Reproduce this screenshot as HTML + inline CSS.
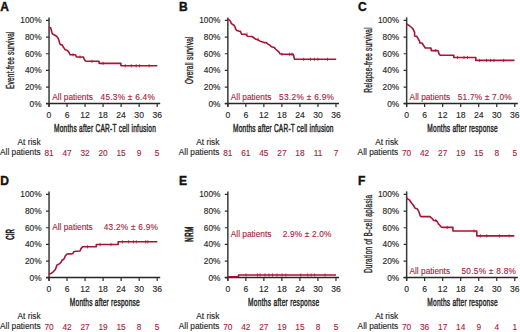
<!DOCTYPE html><html><head><meta charset="utf-8"><style>html,body{margin:0;padding:0;background:#fff;width:520px;height:332px;overflow:hidden}svg{display:block}text{font-family:"Liberation Sans",sans-serif}.k{fill:#2a2a2a;stroke:#2a2a2a;stroke-width:0.15}.r{fill:#aa1a3c;stroke:#aa1a3c;stroke-width:0.12}</style></head><body>
<svg width="520" height="332" viewBox="0 0 520 332">
<rect width="520" height="332" fill="#fff"/>
<g transform="translate(0,0)">
<text x="0.3" y="10.7" font-size="12" font-weight="bold" fill="#111" stroke="#111" stroke-width="0.4">A</text>
<path d="M49.05 17.4V106.8" stroke="#3a3a3a" stroke-width="1.5" fill="none"/>
<path d="M46 103.55H160.2" stroke="#262626" stroke-width="1.4" fill="none"/>
<path d="M46 103.7H49M46 87.05H49M46 70.4H49M46 53.75H49M46 37.1H49M46 20.45H49M49 103.7V106.9M67.03 103.7V106.9M85.06 103.7V106.9M103.09 103.7V106.9M121.12 103.7V106.9M139.15 103.7V106.9M157.18 103.7V106.9" stroke="#2e2e2e" stroke-width="1.2" fill="none"/>
<text x="41.6" y="106.6" font-size="8.3" text-anchor="end" class="k">0%</text>
<text x="41.6" y="89.95" font-size="8.3" text-anchor="end" class="k">20%</text>
<text x="41.6" y="73.3" font-size="8.3" text-anchor="end" class="k">40%</text>
<text x="41.6" y="56.65" font-size="8.3" text-anchor="end" class="k">60%</text>
<text x="41.6" y="40" font-size="8.3" text-anchor="end" class="k">80%</text>
<text x="41.6" y="23.35" font-size="8.3" text-anchor="end" class="k">100%</text>
<text x="49" y="117.8" font-size="8.6" text-anchor="middle" class="k">0</text>
<text x="67.03" y="117.8" font-size="8.6" text-anchor="middle" class="k">6</text>
<text x="85.06" y="117.8" font-size="8.6" text-anchor="middle" class="k">12</text>
<text x="103.09" y="117.8" font-size="8.6" text-anchor="middle" class="k">18</text>
<text x="121.12" y="117.8" font-size="8.6" text-anchor="middle" class="k">24</text>
<text x="139.15" y="117.8" font-size="8.6" text-anchor="middle" class="k">30</text>
<text x="157.18" y="117.8" font-size="8.6" text-anchor="middle" class="k">36</text>
<text transform="translate(54,131.8) scale(0.64,1)" font-size="10.3" textLength="159.06" lengthAdjust="spacing" fill="#262626" stroke="#262626" stroke-width="0.45">Months after CAR-T cell infusion</text>
<text transform="translate(13.9,88.9) rotate(-90) scale(0.64,1)" font-size="10.1" textLength="89.53" lengthAdjust="spacing" fill="#262626" stroke="#262626" stroke-width="0.35">Event-free survival</text>
<text x="40.6" y="144.8" font-size="8.3" text-anchor="end" class="k">At risk</text>
<text x="40.6" y="155.3" font-size="8.3" text-anchor="end" class="k">All patients</text>
<text x="49" y="155.7" font-size="8.3" text-anchor="middle" class="r">81</text>
<text x="67.03" y="155.7" font-size="8.3" text-anchor="middle" class="r">47</text>
<text x="85.06" y="155.7" font-size="8.3" text-anchor="middle" class="r">32</text>
<text x="103.09" y="155.7" font-size="8.3" text-anchor="middle" class="r">20</text>
<text x="121.12" y="155.7" font-size="8.3" text-anchor="middle" class="r">15</text>
<text x="139.15" y="155.7" font-size="8.3" text-anchor="middle" class="r">9</text>
<text x="157.18" y="155.7" font-size="8.3" text-anchor="middle" class="r">5</text>
<text x="52.3" y="99.7" font-size="8.3" class="r">All patients</text>
<text x="100.6" y="99.7" font-size="8.3" textLength="54.2" lengthAdjust="spacing" class="r">45.3% ± 6.4%</text>
</g>
<path d="M49 27.5 50.6 27.8 51.2 29.5 51.7 32 52.5 34 54.5 35 56.5 36.2 57.5 37.2 58.3 38.8 59.2 41 59.7 43.5 60.5 44.6 62 44.9 62.7 45.7 63.3 47.2 64.5 48.6 65.2 49.8 67 50.3 68.3 51.4 69.3 53 70.2 54.8 75.5 54.8 76.5 57 83.4 57 84.2 59.3 85.5 61 87 61.3 99.1 61.3 99.1 63.35 120.9 63.35 120.9 65.8 157.3 65.8" stroke="#ab1234" stroke-width="1.6" fill="none" stroke-linejoin="round"/>
<path d="M73 53.2V56.4M80 55.4V58.6M92 59.7V62.9M103 61.75V64.95M125.3 64.2V67.4M131.3 64.2V67.4M136.2 64.2V67.4M139.4 64.2V67.4M149.1 64.2V67.4" stroke="#ab1234" stroke-width="0.8" fill="none"/>
<g transform="translate(178.8,0)">
<text x="0.3" y="10.7" font-size="12" font-weight="bold" fill="#111" stroke="#111" stroke-width="0.4">B</text>
<path d="M49.05 17.4V106.8" stroke="#3a3a3a" stroke-width="1.5" fill="none"/>
<path d="M46 103.55H160.2" stroke="#262626" stroke-width="1.4" fill="none"/>
<path d="M46 103.7H49M46 87.05H49M46 70.4H49M46 53.75H49M46 37.1H49M46 20.45H49M49 103.7V106.9M67.03 103.7V106.9M85.06 103.7V106.9M103.09 103.7V106.9M121.12 103.7V106.9M139.15 103.7V106.9M157.18 103.7V106.9" stroke="#2e2e2e" stroke-width="1.2" fill="none"/>
<text x="41.6" y="106.6" font-size="8.3" text-anchor="end" class="k">0%</text>
<text x="41.6" y="89.95" font-size="8.3" text-anchor="end" class="k">20%</text>
<text x="41.6" y="73.3" font-size="8.3" text-anchor="end" class="k">40%</text>
<text x="41.6" y="56.65" font-size="8.3" text-anchor="end" class="k">60%</text>
<text x="41.6" y="40" font-size="8.3" text-anchor="end" class="k">80%</text>
<text x="41.6" y="23.35" font-size="8.3" text-anchor="end" class="k">100%</text>
<text x="49" y="117.8" font-size="8.6" text-anchor="middle" class="k">0</text>
<text x="67.03" y="117.8" font-size="8.6" text-anchor="middle" class="k">6</text>
<text x="85.06" y="117.8" font-size="8.6" text-anchor="middle" class="k">12</text>
<text x="103.09" y="117.8" font-size="8.6" text-anchor="middle" class="k">18</text>
<text x="121.12" y="117.8" font-size="8.6" text-anchor="middle" class="k">24</text>
<text x="139.15" y="117.8" font-size="8.6" text-anchor="middle" class="k">30</text>
<text x="157.18" y="117.8" font-size="8.6" text-anchor="middle" class="k">36</text>
<text transform="translate(54.3,131.8) scale(0.64,1)" font-size="10.3" textLength="156.88" lengthAdjust="spacing" fill="#262626" stroke="#262626" stroke-width="0.45">Months after CAR-T cell infusion</text>
<text transform="translate(13.9,84) rotate(-90) scale(0.64,1)" font-size="10.1" textLength="74.06" lengthAdjust="spacing" fill="#262626" stroke="#262626" stroke-width="0.35">Overall survival</text>
<text x="40.6" y="144.8" font-size="8.3" text-anchor="end" class="k">At risk</text>
<text x="40.6" y="155.3" font-size="8.3" text-anchor="end" class="k">All patients</text>
<text x="49" y="155.7" font-size="8.3" text-anchor="middle" class="r">81</text>
<text x="67.03" y="155.7" font-size="8.3" text-anchor="middle" class="r">61</text>
<text x="85.06" y="155.7" font-size="8.3" text-anchor="middle" class="r">45</text>
<text x="103.09" y="155.7" font-size="8.3" text-anchor="middle" class="r">27</text>
<text x="121.12" y="155.7" font-size="8.3" text-anchor="middle" class="r">18</text>
<text x="139.15" y="155.7" font-size="8.3" text-anchor="middle" class="r">11</text>
<text x="157.18" y="155.7" font-size="8.3" text-anchor="middle" class="r">7</text>
<text x="52" y="99.7" font-size="8.3" class="r">All patients</text>
<text x="100.2" y="99.7" font-size="8.3" textLength="55" lengthAdjust="spacing" class="r">53.2% ± 6.9%</text>
</g>
<path d="M227.8 19.1 229.6 20.1 230.6 21.6 231.1 23.2 232.2 24.2 233.7 25 234.5 26 235.2 27.3 235.7 29.3 236.8 30.4 238.8 31.1 240.4 31.4 241.6 34.2 245.7 34.2 247.5 36.2 251.8 36.5 253.4 37.5 256 39.3 258.5 40.1 260 41.2 262 41.8 264.1 42.6 266.2 42.6 267.7 43.9 269.7 45.2 271.3 46.7 274.4 47.5 275.4 49 277.4 50.6 279 52.1 280 53.8 282 54.2 293.3 54.4 294 57 294.6 59.3 336.2 59.3" stroke="#ab1234" stroke-width="1.6" fill="none" stroke-linejoin="round"/>
<path d="M247 32.6V35.8M258 37.7V40.9M282 52.6V55.8M289.5 52.6V55.8M292 52.6V55.8M303.6 57.7V60.9M310.4 57.7V60.9M314.4 57.7V60.9M317.9 57.7V60.9M327.5 57.7V60.9" stroke="#ab1234" stroke-width="0.8" fill="none"/>
<g transform="translate(357.6,0)">
<text x="0.3" y="10.7" font-size="12" font-weight="bold" fill="#111" stroke="#111" stroke-width="0.4">C</text>
<path d="M49.05 17.4V106.8" stroke="#3a3a3a" stroke-width="1.5" fill="none"/>
<path d="M46 103.55H160.2" stroke="#262626" stroke-width="1.4" fill="none"/>
<path d="M46 103.7H49M46 87.05H49M46 70.4H49M46 53.75H49M46 37.1H49M46 20.45H49M49 103.7V106.9M67.03 103.7V106.9M85.06 103.7V106.9M103.09 103.7V106.9M121.12 103.7V106.9M139.15 103.7V106.9M157.18 103.7V106.9" stroke="#2e2e2e" stroke-width="1.2" fill="none"/>
<text x="41.6" y="106.6" font-size="8.3" text-anchor="end" class="k">0%</text>
<text x="41.6" y="89.95" font-size="8.3" text-anchor="end" class="k">20%</text>
<text x="41.6" y="73.3" font-size="8.3" text-anchor="end" class="k">40%</text>
<text x="41.6" y="56.65" font-size="8.3" text-anchor="end" class="k">60%</text>
<text x="41.6" y="40" font-size="8.3" text-anchor="end" class="k">80%</text>
<text x="41.6" y="23.35" font-size="8.3" text-anchor="end" class="k">100%</text>
<text x="49" y="117.8" font-size="8.6" text-anchor="middle" class="k">0</text>
<text x="67.03" y="117.8" font-size="8.6" text-anchor="middle" class="k">6</text>
<text x="85.06" y="117.8" font-size="8.6" text-anchor="middle" class="k">12</text>
<text x="103.09" y="117.8" font-size="8.6" text-anchor="middle" class="k">18</text>
<text x="121.12" y="117.8" font-size="8.6" text-anchor="middle" class="k">24</text>
<text x="139.15" y="117.8" font-size="8.6" text-anchor="middle" class="k">30</text>
<text x="157.18" y="117.8" font-size="8.6" text-anchor="middle" class="k">36</text>
<text transform="translate(69.7,131.8) scale(0.64,1)" font-size="10.3" textLength="110" lengthAdjust="spacing" fill="#262626" stroke="#262626" stroke-width="0.45">Months after response</text>
<text transform="translate(13.9,92.7) rotate(-90) scale(0.64,1)" font-size="10.1" textLength="102.03" lengthAdjust="spacing" fill="#262626" stroke="#262626" stroke-width="0.35">Relapse-free survival</text>
<text x="40.6" y="144.8" font-size="8.3" text-anchor="end" class="k">At risk</text>
<text x="40.6" y="155.3" font-size="8.3" text-anchor="end" class="k">All patients</text>
<text x="49" y="155.7" font-size="8.3" text-anchor="middle" class="r">70</text>
<text x="67.03" y="155.7" font-size="8.3" text-anchor="middle" class="r">42</text>
<text x="85.06" y="155.7" font-size="8.3" text-anchor="middle" class="r">27</text>
<text x="103.09" y="155.7" font-size="8.3" text-anchor="middle" class="r">19</text>
<text x="121.12" y="155.7" font-size="8.3" text-anchor="middle" class="r">15</text>
<text x="139.15" y="155.7" font-size="8.3" text-anchor="middle" class="r">8</text>
<text x="157.18" y="155.7" font-size="8.3" text-anchor="middle" class="r">5</text>
<text x="52" y="99.7" font-size="8.3" class="r">All patients</text>
<text x="100.2" y="99.7" font-size="8.3" textLength="53.8" lengthAdjust="spacing" class="r">51.7% ± 7.0%</text>
</g>
<path d="M406.6 24 409 25.4 411 27 412.7 28.5 413.7 30.3 414.6 32.3 414.6 36 416.8 36.4 418.1 38.6 419.7 41.7 419.7 43 422 43 423.8 45.8 425.3 48 431 48 431.3 50.6 436.8 50.6 438.3 51 438.8 53.5 440.2 55.3 453.8 55.3 453.8 57.5 475.8 57.5 475.8 60.4 514.5 60.4" stroke="#ab1234" stroke-width="1.6" fill="none" stroke-linejoin="round"/>
<path d="M435.7 49V52.2M457.5 55.9V59.1M464 55.9V59.1M467.5 55.9V59.1M479.6 58.8V62M486.5 58.8V62M490.6 58.8V62M494 58.8V62M503.6 58.8V62" stroke="#ab1234" stroke-width="0.8" fill="none"/>
<g transform="translate(0,174)">
<text x="0.3" y="10.7" font-size="12" font-weight="bold" fill="#111" stroke="#111" stroke-width="0.4">D</text>
<path d="M49.05 17.4V106.8" stroke="#3a3a3a" stroke-width="1.5" fill="none"/>
<path d="M46 103.55H160.2" stroke="#262626" stroke-width="1.4" fill="none"/>
<path d="M46 103.7H49M46 87.05H49M46 70.4H49M46 53.75H49M46 37.1H49M46 20.45H49M49 103.7V106.9M67.03 103.7V106.9M85.06 103.7V106.9M103.09 103.7V106.9M121.12 103.7V106.9M139.15 103.7V106.9M157.18 103.7V106.9" stroke="#2e2e2e" stroke-width="1.2" fill="none"/>
<text x="41.6" y="106.6" font-size="8.3" text-anchor="end" class="k">0%</text>
<text x="41.6" y="89.95" font-size="8.3" text-anchor="end" class="k">20%</text>
<text x="41.6" y="73.3" font-size="8.3" text-anchor="end" class="k">40%</text>
<text x="41.6" y="56.65" font-size="8.3" text-anchor="end" class="k">60%</text>
<text x="41.6" y="40" font-size="8.3" text-anchor="end" class="k">80%</text>
<text x="41.6" y="23.35" font-size="8.3" text-anchor="end" class="k">100%</text>
<text x="49" y="117.8" font-size="8.6" text-anchor="middle" class="k">0</text>
<text x="67.03" y="117.8" font-size="8.6" text-anchor="middle" class="k">6</text>
<text x="85.06" y="117.8" font-size="8.6" text-anchor="middle" class="k">12</text>
<text x="103.09" y="117.8" font-size="8.6" text-anchor="middle" class="k">18</text>
<text x="121.12" y="117.8" font-size="8.6" text-anchor="middle" class="k">24</text>
<text x="139.15" y="117.8" font-size="8.6" text-anchor="middle" class="k">30</text>
<text x="157.18" y="117.8" font-size="8.6" text-anchor="middle" class="k">36</text>
<text transform="translate(69.8,131.8) scale(0.64,1)" font-size="10.3" textLength="109.22" lengthAdjust="spacing" fill="#262626" stroke="#262626" stroke-width="0.45">Months after response</text>
<text transform="translate(13.9,65.7) rotate(-90) scale(0.6,1)" font-size="10.1" textLength="17.83" lengthAdjust="spacing" fill="#262626" stroke="#262626" stroke-width="0.75">CIR</text>
<text x="40.6" y="144.8" font-size="8.3" text-anchor="end" class="k">At risk</text>
<text x="40.6" y="155.3" font-size="8.3" text-anchor="end" class="k">All patients</text>
<text x="49" y="155.7" font-size="8.3" text-anchor="middle" class="r">70</text>
<text x="67.03" y="155.7" font-size="8.3" text-anchor="middle" class="r">42</text>
<text x="85.06" y="155.7" font-size="8.3" text-anchor="middle" class="r">27</text>
<text x="103.09" y="155.7" font-size="8.3" text-anchor="middle" class="r">19</text>
<text x="121.12" y="155.7" font-size="8.3" text-anchor="middle" class="r">15</text>
<text x="139.15" y="155.7" font-size="8.3" text-anchor="middle" class="r">8</text>
<text x="157.18" y="155.7" font-size="8.3" text-anchor="middle" class="r">5</text>
<text x="52.2" y="56.4" font-size="8.3" class="r">All patients</text>
<text x="103.7" y="56.4" font-size="8.3" textLength="54.3" lengthAdjust="spacing" class="r">43.2% ± 6.9%</text>
</g>
<path d="M49 274.5 51.1 273.4 53.2 271.8 54.7 270.3 55.7 268.8 56.5 266.2 57.3 264.7 58.8 264.2 60.3 263.1 61.4 261.8 61.9 260.3 63.4 259.5 64.4 258.3 65.1 256.3 66.7 254.3 68.7 253.8 71.3 254 72.8 253.6 73.8 251.7 75.9 251.2 80 251 81 248.6 82.6 246.8 96.3 246.8 96.3 244.5 118.2 244.5 118.2 241.8 157.3 241.8" stroke="#ab1234" stroke-width="1.6" fill="none" stroke-linejoin="round"/>
<path d="M87.5 245.2V248.4M100 242.9V246.1M111 242.9V246.1M122.4 240.2V243.4M128.7 240.2V243.4M133.4 240.2V243.4M136.3 240.2V243.4M145.7 240.2V243.4M147.8 240.2V243.4" stroke="#ab1234" stroke-width="0.8" fill="none"/>
<g transform="translate(178.8,174)">
<text x="0.3" y="10.7" font-size="12" font-weight="bold" fill="#111" stroke="#111" stroke-width="0.4">E</text>
<path d="M49.05 17.4V106.8" stroke="#3a3a3a" stroke-width="1.5" fill="none"/>
<path d="M46 103.55H160.2" stroke="#262626" stroke-width="1.4" fill="none"/>
<path d="M46 103.7H49M46 87.05H49M46 70.4H49M46 53.75H49M46 37.1H49M46 20.45H49M49 103.7V106.9M67.03 103.7V106.9M85.06 103.7V106.9M103.09 103.7V106.9M121.12 103.7V106.9M139.15 103.7V106.9M157.18 103.7V106.9" stroke="#2e2e2e" stroke-width="1.2" fill="none"/>
<text x="41.6" y="106.6" font-size="8.3" text-anchor="end" class="k">0%</text>
<text x="41.6" y="89.95" font-size="8.3" text-anchor="end" class="k">20%</text>
<text x="41.6" y="73.3" font-size="8.3" text-anchor="end" class="k">40%</text>
<text x="41.6" y="56.65" font-size="8.3" text-anchor="end" class="k">60%</text>
<text x="41.6" y="40" font-size="8.3" text-anchor="end" class="k">80%</text>
<text x="41.6" y="23.35" font-size="8.3" text-anchor="end" class="k">100%</text>
<text x="49" y="117.8" font-size="8.6" text-anchor="middle" class="k">0</text>
<text x="67.03" y="117.8" font-size="8.6" text-anchor="middle" class="k">6</text>
<text x="85.06" y="117.8" font-size="8.6" text-anchor="middle" class="k">12</text>
<text x="103.09" y="117.8" font-size="8.6" text-anchor="middle" class="k">18</text>
<text x="121.12" y="117.8" font-size="8.6" text-anchor="middle" class="k">24</text>
<text x="139.15" y="117.8" font-size="8.6" text-anchor="middle" class="k">30</text>
<text x="157.18" y="117.8" font-size="8.6" text-anchor="middle" class="k">36</text>
<text transform="translate(69.3,131.8) scale(0.64,1)" font-size="10.3" textLength="111.09" lengthAdjust="spacing" fill="#262626" stroke="#262626" stroke-width="0.45">Months after response</text>
<text transform="translate(13.9,67.7) rotate(-90) scale(0.6,1)" font-size="10.1" textLength="24.83" lengthAdjust="spacing" fill="#262626" stroke="#262626" stroke-width="0.75">NRM</text>
<text x="40.6" y="144.8" font-size="8.3" text-anchor="end" class="k">At risk</text>
<text x="40.6" y="155.3" font-size="8.3" text-anchor="end" class="k">All patients</text>
<text x="49" y="155.7" font-size="8.3" text-anchor="middle" class="r">70</text>
<text x="67.03" y="155.7" font-size="8.3" text-anchor="middle" class="r">42</text>
<text x="85.06" y="155.7" font-size="8.3" text-anchor="middle" class="r">27</text>
<text x="103.09" y="155.7" font-size="8.3" text-anchor="middle" class="r">19</text>
<text x="121.12" y="155.7" font-size="8.3" text-anchor="middle" class="r">15</text>
<text x="139.15" y="155.7" font-size="8.3" text-anchor="middle" class="r">8</text>
<text x="157.18" y="155.7" font-size="8.3" text-anchor="middle" class="r">5</text>
<text x="52" y="62.8" font-size="8.3" class="r">All patients</text>
<text x="104" y="62.8" font-size="8.3" textLength="48.7" lengthAdjust="spacing" class="r">2.9% ± 2.0%</text>
</g>
<path d="M227.8 276.8 238.5 276.8 238.5 275 336 275" stroke="#ab1234" stroke-width="1.6" fill="none" stroke-linejoin="round"/>
<path d="M246 273.4V276.6M257.5 273.4V276.6M260 273.4V276.6M265 273.4V276.6M269 273.4V276.6M272.5 273.4V276.6M277 273.4V276.6M282 273.4V276.6M285.8 273.4V276.6M300.8 273.4V276.6M307.7 273.4V276.6M311.1 273.4V276.6M314.6 273.4V276.6M325 273.4V276.6" stroke="#ab1234" stroke-width="0.8" fill="none"/>
<g transform="translate(357.6,174)">
<text x="0.3" y="10.7" font-size="12" font-weight="bold" fill="#111" stroke="#111" stroke-width="0.4">F</text>
<path d="M49.05 17.4V106.8" stroke="#3a3a3a" stroke-width="1.5" fill="none"/>
<path d="M46 103.55H160.2" stroke="#262626" stroke-width="1.4" fill="none"/>
<path d="M46 103.7H49M46 87.05H49M46 70.4H49M46 53.75H49M46 37.1H49M46 20.45H49M49 103.7V106.9M67.03 103.7V106.9M85.06 103.7V106.9M103.09 103.7V106.9M121.12 103.7V106.9M139.15 103.7V106.9M157.18 103.7V106.9" stroke="#2e2e2e" stroke-width="1.2" fill="none"/>
<text x="41.6" y="106.6" font-size="8.3" text-anchor="end" class="k">0%</text>
<text x="41.6" y="89.95" font-size="8.3" text-anchor="end" class="k">20%</text>
<text x="41.6" y="73.3" font-size="8.3" text-anchor="end" class="k">40%</text>
<text x="41.6" y="56.65" font-size="8.3" text-anchor="end" class="k">60%</text>
<text x="41.6" y="40" font-size="8.3" text-anchor="end" class="k">80%</text>
<text x="41.6" y="23.35" font-size="8.3" text-anchor="end" class="k">100%</text>
<text x="49" y="117.8" font-size="8.6" text-anchor="middle" class="k">0</text>
<text x="67.03" y="117.8" font-size="8.6" text-anchor="middle" class="k">6</text>
<text x="85.06" y="117.8" font-size="8.6" text-anchor="middle" class="k">12</text>
<text x="103.09" y="117.8" font-size="8.6" text-anchor="middle" class="k">18</text>
<text x="121.12" y="117.8" font-size="8.6" text-anchor="middle" class="k">24</text>
<text x="139.15" y="117.8" font-size="8.6" text-anchor="middle" class="k">30</text>
<text x="157.18" y="117.8" font-size="8.6" text-anchor="middle" class="k">36</text>
<text transform="translate(69.7,131.8) scale(0.64,1)" font-size="10.3" textLength="110" lengthAdjust="spacing" fill="#262626" stroke="#262626" stroke-width="0.45">Months after response</text>
<text transform="translate(13.9,99.1) rotate(-90) scale(0.64,1)" font-size="10.1" textLength="122.34" lengthAdjust="spacing" fill="#262626" stroke="#262626" stroke-width="0.35">Duration of B-cell aplasia</text>
<text x="40.6" y="144.8" font-size="8.3" text-anchor="end" class="k">At risk</text>
<text x="40.6" y="155.3" font-size="8.3" text-anchor="end" class="k">All patients</text>
<text x="49" y="155.7" font-size="8.3" text-anchor="middle" class="r">70</text>
<text x="67.03" y="155.7" font-size="8.3" text-anchor="middle" class="r">36</text>
<text x="85.06" y="155.7" font-size="8.3" text-anchor="middle" class="r">17</text>
<text x="103.09" y="155.7" font-size="8.3" text-anchor="middle" class="r">14</text>
<text x="121.12" y="155.7" font-size="8.3" text-anchor="middle" class="r">9</text>
<text x="139.15" y="155.7" font-size="8.3" text-anchor="middle" class="r">4</text>
<text x="157.18" y="155.7" font-size="8.3" text-anchor="middle" class="r">1</text>
<text x="51.9" y="99.7" font-size="8.3" class="r">All patients</text>
<text x="103.8" y="99.7" font-size="8.3" textLength="54.6" lengthAdjust="spacing" class="r">50.5% ± 8.8%</text>
</g>
<path d="M406.4 197.1 407.1 198.7 408.6 199.4 409.6 200.2 410.4 201.5 411.7 203.3 412.7 204.5 413.8 206 415.1 208.2 417.1 208.7 418.2 210.2 419.2 212.8 420.2 215.8 421.2 216.6 430 216.6 431.1 217.6 432.6 218.9 433.6 220.5 436.2 220.5 437.5 222 438.3 223.8 439.8 225.3 441.3 227.1 443.4 227.4 452.9 227.4 452.9 231 476.8 231 476.8 235.9 514.3 235.9" stroke="#ab1234" stroke-width="1.6" fill="none" stroke-linejoin="round"/>
<path d="M435.8 218.9V222.1M447.2 225.8V229M474 229.4V232.6M480.4 234.3V237.5M486.7 234.3V237.5M499.4 234.3V237.5M509.2 234.3V237.5" stroke="#ab1234" stroke-width="0.8" fill="none"/>
</svg></body></html>
